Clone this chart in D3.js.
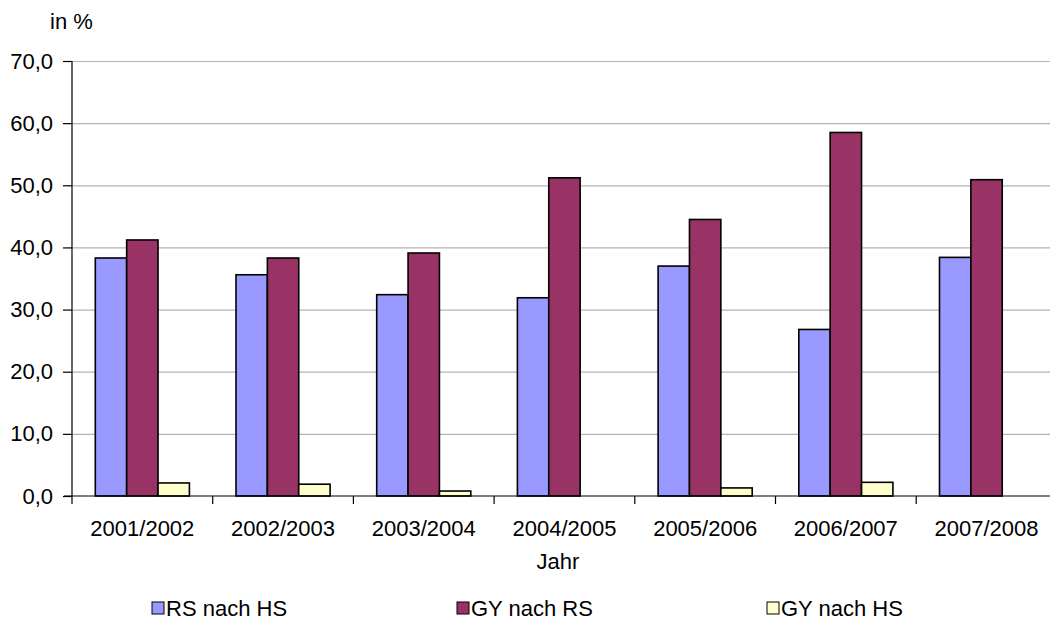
<!DOCTYPE html>
<html>
<head>
<meta charset="utf-8">
<script src="https://cdn.jsdelivr.net/npm/d3@7"></script>
<style>
  html, body { margin: 0; padding: 0; background: #fff; }
  svg { display: block; }
  text { font-family: "Liberation Sans", Arial, Helvetica, sans-serif; fill: #000; }
</style>
</head>
<body>
<svg id="chart" width="1050" height="619"></svg>
<script>
const categories = ["2001/2002", "2002/2003", "2003/2004", "2004/2005", "2005/2006", "2006/2007", "2007/2008"];
const seriesNames = ["RS nach HS", "GY nach RS", "GY nach HS"];
const rsNachHS = [38.3, 35.6, 32.4, 31.9, 37.0, 26.8, 38.4];
const gyNachRS = [41.2, 38.3, 39.1, 51.2, 44.5, 58.5, 50.9];
const gyNachHS = [2.1, 1.9, 0.8, null, 1.3, 2.2, null];
const yTicks = [0, 10, 20, 30, 40, 50, 60, 70];
const colors = ["#9999ff", "#993366", "#ffffcc"];

(function () {
const seriesValues = [rsNachHS, gyNachRS, gyNachHS];
const svg = d3.select("#chart");
const FS = 22;

const pLeft = 72, pTop = 61, pBottom = 496, bandW = 140.7;
const x = d3.scaleBand().domain(categories).range([pLeft, pLeft + bandW * categories.length]).padding(0);
const xs = d3.scaleBand().domain(seriesNames).range([23.3, bandW - 23.3]).padding(0);
const y = d3.scaleLinear().domain([0, 70]).range([pBottom, pTop]);

// gridlines
svg.append("g").selectAll("line").data(yTicks.filter(d => d > 0)).join("line")
  .attr("x1", pLeft).attr("x2", 1050)
  .attr("y1", d => y(d) + 0.5).attr("y2", d => y(d) + 0.5)
  .attr("stroke", "#b3b3b3").attr("stroke-width", 1.2);

// bars
const groups = svg.append("g").selectAll("g").data(categories).join("g")
  .attr("transform", d => `translate(${x(d)},0)`);
groups.selectAll("rect")
  .data((c, i) => seriesNames.map((s, j) => ({ s, v: seriesValues[j][i], j })).filter(d => d.v != null))
  .join("rect")
  .attr("x", d => xs(d.s))
  .attr("width", xs.bandwidth())
  .attr("y", d => y(d.v))
  .attr("height", d => pBottom - y(d.v))
  .attr("fill", d => colors[d.j])
  .attr("stroke", "#000").attr("stroke-width", 1.6);

// y axis
const yAxis = d3.axisLeft(y).tickValues(yTicks).tickSize(9).tickPadding(10)
  .tickFormat(d => d3.format(".1f")(d).replace(".", ","));
const gy = svg.append("g").attr("transform", `translate(${pLeft},0)`).call(yAxis);
gy.select(".domain").attr("d", `M0,${pTop}V${pBottom + 8}`).attr("stroke", "#000").attr("stroke-width", 1.2);
gy.selectAll(".tick line").attr("stroke", "#000").attr("stroke-width", 1.2);
gy.selectAll(".tick text").attr("font-size", FS).attr("font-family", "'Liberation Sans', Arial, sans-serif").attr("fill", "#000");

// x axis
const xAxis = d3.axisBottom(x).tickSize(0).tickPadding(24);
const gx = svg.append("g").attr("transform", `translate(0,${pBottom})`).call(xAxis);
gx.select(".domain").attr("d", `M${pLeft - 8},0H1050`).attr("stroke", "#000").attr("stroke-width", 1.2);
gx.selectAll(".tick text").attr("font-size", FS).attr("font-family", "'Liberation Sans', Arial, sans-serif").attr("fill", "#000");
// category boundary ticks
svg.append("g").selectAll("line").data(categories.slice(1)).join("line")
  .attr("x1", d => x(d)).attr("x2", d => x(d))
  .attr("y1", pBottom).attr("y2", pBottom + 8)
  .attr("stroke", "#000").attr("stroke-width", 1.2);

// axis titles
svg.append("text").attr("x", 50).attr("y", 29).attr("font-size", FS).text("in %");
svg.append("text").attr("x", 558).attr("y", 569).attr("text-anchor", "middle").attr("font-size", FS).text("Jahr");

// legend
const legendX = [152, 457, 767];
const lg = svg.append("g").selectAll("g").data(seriesNames).join("g")
  .attr("transform", (d, i) => `translate(${legendX[i]},602)`);
lg.append("rect").attr("width", 12).attr("height", 12)
  .attr("fill", (d, i) => colors[i]).attr("stroke", "#000").attr("stroke-width", 1);
lg.append("text").attr("x", 14).attr("y", 13.5).attr("font-size", FS).text(d => d);
})();
</script>
</body>
</html>
